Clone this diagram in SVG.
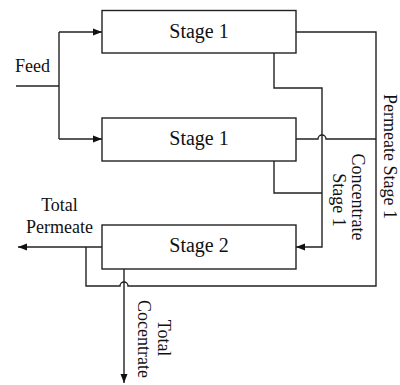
<svg xmlns="http://www.w3.org/2000/svg" width="400" height="385" viewBox="0 0 400 385">
<style>
.box{fill:#fff;stroke:#222;stroke-width:1.4}
.ln{fill:none;stroke:#222;stroke-width:1.4}
.t{font-family:"Liberation Serif","Times New Roman",serif;fill:#111;font-size:18px}
.st{font-family:"Liberation Serif","Times New Roman",serif;fill:#111;font-size:20px;text-anchor:middle}
</style>
<defs>
<marker id="arr" markerUnits="userSpaceOnUse" markerWidth="10" markerHeight="10" refX="9" refY="5" orient="auto">
<path d="M0,1.5 L9,5 L0,8.5 Z" fill="#111"/>
</marker>
</defs>
<rect width="400" height="385" fill="#fff"/>
<g id="connectors">
<path class="ln" d="M16,86 H59"/>
<path class="ln" d="M59,32 V139"/>
<path class="ln" d="M59,32 H102" marker-end="url(#arr)"/>
<path class="ln" d="M59,139 H102" marker-end="url(#arr)"/>
<path class="ln" d="M296,32 H376 V286 H128 A4,4 0 0 0 120,286 H86 V247"/>
<path class="ln" d="M296,139 H318 A4,4 0 0 1 326,139 H376"/>
<path class="ln" d="M274,53 V88 H322 V247 H296" marker-end="url(#arr)"/>
<path class="ln" d="M274,161 V193 H322"/>
<path class="ln" d="M102,247 H18" marker-end="url(#arr)"/>
<path class="ln" d="M124,269 V383" marker-end="url(#arr)"/>
</g>
<g id="stage1a">
<rect class="box" x="102" y="10.5" width="194" height="42.5"/>
<text class="st" x="199" y="37.5">Stage 1</text>
</g>
<g id="stage1b">
<rect class="box" x="102" y="118" width="194" height="43"/>
<text class="st" x="199" y="145">Stage 1</text>
</g>
<g id="stage2">
<rect class="box" x="102" y="225" width="194" height="44"/>
<text class="st" x="199" y="252">Stage 2</text>
</g>
<g id="labels">
<text class="t" x="15" y="72">Feed</text>
<text class="t" x="59.5" y="210.5" text-anchor="middle">Total</text>
<text class="t" x="59.5" y="232.5" text-anchor="middle">Permeate</text>
<text class="t" transform="translate(383.5,94) rotate(90)">Permeate Stage 1</text>
<text class="t" transform="translate(352,197) rotate(90)" text-anchor="middle">Concentrate</text>
<text class="t" transform="translate(333,200) rotate(90)" text-anchor="middle">Stage 1</text>
<text class="t" transform="translate(158,338) rotate(90)" text-anchor="middle">Total</text>
<text class="t" transform="translate(138,339) rotate(90)" text-anchor="middle">Cocentrate</text>
</g>
</svg>
